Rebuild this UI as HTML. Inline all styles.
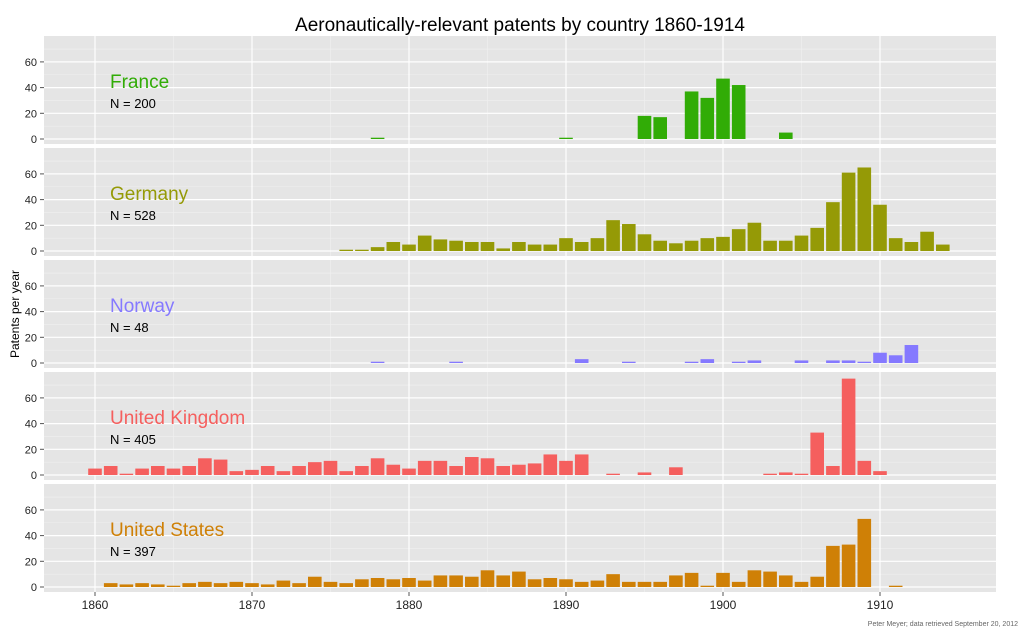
<!DOCTYPE html>
<html><head><meta charset="utf-8"><style>
body{margin:0;background:#fff;font-family:"Liberation Sans",sans-serif}
svg text{font-family:"Liberation Sans",sans-serif}
</style></head><body>
<svg id="chart" width="1024" height="632" viewBox="0 0 1024 632" xmlns="http://www.w3.org/2000/svg">
<text x="520" y="31" text-anchor="middle" font-size="19" fill="#000">Aeronautically-relevant patents by country 1860-1914</text>
<text transform="translate(19,314) rotate(-90)" text-anchor="middle" font-size="12" fill="#000">Patents per year</text>
<text x="1018" y="626" text-anchor="end" font-size="7" fill="#666">Peter Meyer; data retrieved September 20, 2012</text>
<g id="panels"></g>
<g id="xaxis"></g>
</svg>
<script>
const countries = ["France","Germany","Norway","United Kingdom","United States"];
const colors = ["#31ac06","#959a06","#8579ff","#f55f5e","#cf8006"];
const totals = ["N = 200","N = 528","N = 48","N = 405","N = 397"];
const yTicks = [0,20,40,60];
const xTicks = [1860,1870,1880,1890,1900,1910];
const startYear = 1860;
const france = {1878:1,1890:1,1895:18,1896:17,1898:37,1899:32,1900:47,1901:42,1904:5};
const germany = {1876:1,1877:1,1878:3,1879:7,1880:5,1881:12,1882:9,1883:8,1884:7,1885:7,1886:2,1887:7,1888:5,1889:5,1890:10,1891:7,1892:10,1893:24,1894:21,1895:13,1896:8,1897:6,1898:8,1899:10,1900:11,1901:17,1902:22,1903:8,1904:8,1905:12,1906:18,1907:38,1908:61,1909:65,1910:36,1911:10,1912:7,1913:15,1914:5};
const norway = {1878:1,1883:1,1891:3,1894:1,1898:1,1899:3,1901:1,1902:2,1905:2,1907:2,1908:2,1909:1,1910:8,1911:6,1912:14};
const ukEarly = [5,7,1,5,7,5,7,13,12,3,4,7,3,7,10,11,3,7,13,8,5,11,11,7,14,13,7,8,9,16,11,16];
const ukLate = {1893:1,1895:2,1897:6,1903:1,1904:2,1905:1,1906:33,1907:7,1908:75,1909:11,1910:3};
const usVals = [0,3,2,3,2,1,3,4,3,4,3,2,5,3,8,4,3,6,7,6,7,5,9,9,8,13,9,12,6,7,6,4,5,10,4,4,4,9,11,1,11,4,13,12,9,4,8,32,33,53,0,1];

const uk = {};
ukEarly.forEach((v,i)=>uk[startYear+i]=v);
Object.assign(uk, ukLate);
const us = {};
usVals.forEach((v,i)=>{ if(v) us[startYear+i]=v; });
const series = [france, germany, norway, uk, us];

const NS="http://www.w3.org/2000/svg";
const L=44, R=996, PH=108, GAP=4, TOP0=36;
const x = yr => 95 + (yr-1860)*15.7;
const yOf = (top,v) => top + 103 - v*1.285;
const bw = 13.6;
function mk(tag, attrs, parent){const e=document.createElementNS(NS,tag);for(const k in attrs)e.setAttribute(k,attrs[k]);parent.appendChild(e);return e;}
const panels=document.getElementById('panels');
countries.forEach((c,pi)=>{
  const top = TOP0 + pi*(PH+GAP);
  const g = mk('g',{},panels);
  
  
  const bg = mk('rect',{x:L,y:top,width:R-L,height:PH,fill:'#e5e5e5'},g);
  
  
  // minor grid
  [10,30,50,70].forEach(v=>mk('line',{x1:L,x2:R,y1:yOf(top,v),y2:yOf(top,v),stroke:'#f0f0f0','stroke-width':0.6},g));
  [1865,1875,1885,1895,1905].forEach(t=>mk('line',{x1:x(t),x2:x(t),y1:top,y2:top+PH,stroke:'#f0f0f0','stroke-width':0.6},g));
  yTicks.forEach(v=>{
    mk('line',{x1:L,x2:R,y1:yOf(top,v),y2:yOf(top,v),stroke:'#fff','stroke-width':1.2},g);
    mk('line',{x1:40,x2:44,y1:yOf(top,v),y2:yOf(top,v),stroke:'#555','stroke-width':1},g);
    const t=mk('text',{x:37,y:yOf(top,v)+4,'text-anchor':'end','font-size':11,fill:'#222'},g);
    
    
    t.textContent=v;
  });
  xTicks.forEach(t=>mk('line',{x1:x(t),x2:x(t),y1:top,y2:top+PH,stroke:'#fff','stroke-width':1.2},g));
  const d = series[pi];
  Object.keys(d).forEach(k=>{
    const yr=+k, v=d[k];
    if(!v) return;
    const b=mk('rect',{x:x(yr)-bw/2,y:yOf(top,v),width:bw,height:v*1.285,fill:colors[pi]},g);
    
    
  });
  const n=mk('text',{x:110,y:top+52,'font-size':19,fill:colors[pi]},g);
  
  
  n.textContent=c;
  const nt=mk('text',{x:110,y:top+72,'font-size':13,fill:'#000'},g);
  
  
  nt.textContent=totals[pi];
});
const xa=document.getElementById('xaxis');
xTicks.forEach(t=>{
  mk('line',{x1:x(t),x2:x(t),y1:592,y2:596,stroke:'#555','stroke-width':1},xa);
  const l=mk('text',{x:x(t),y:609,'text-anchor':'middle','font-size':12,fill:'#222'},xa);
  
  
  l.textContent=t;
});
</script>
</body></html>
